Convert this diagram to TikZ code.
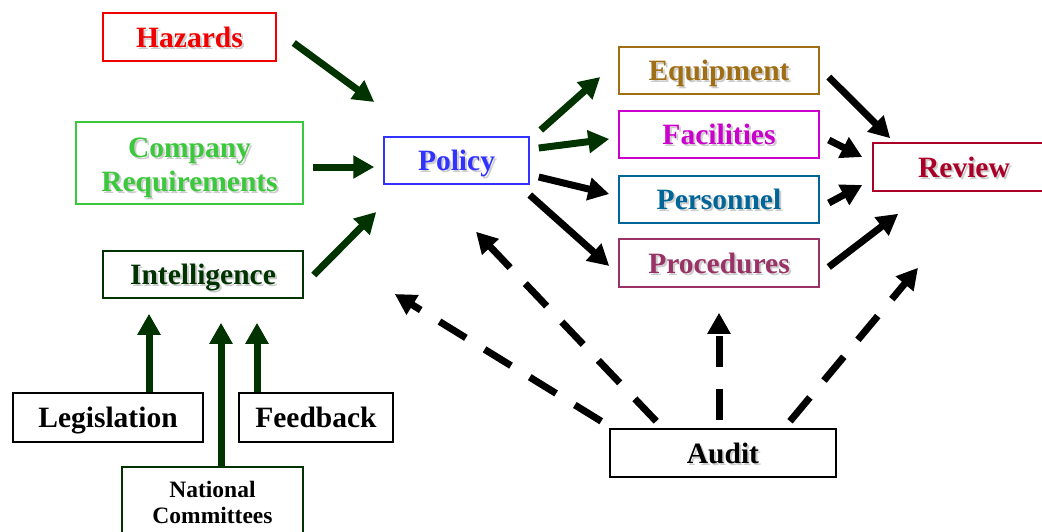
\documentclass[tikz,border=0pt]{standalone}
\usepackage{fontspec}
\setmainfont{Liberation Serif}
\usetikzlibrary{arrows.meta,calc}
\definecolor{hazred}{RGB}{240,0,0}
\definecolor{compgreen}{RGB}{60,200,60}
\definecolor{intelgreen}{RGB}{0,51,0}
\definecolor{polblue}{RGB}{51,51,255}
\definecolor{eqbrown}{RGB}{160,110,20}
\definecolor{facmag}{RGB}{204,0,204}
\definecolor{persblue}{RGB}{0,102,153}
\definecolor{procpurp}{RGB}{153,51,102}
\definecolor{revred}{RGB}{170,0,40}
\definecolor{arrgreen}{RGB}{0,51,0}
\definecolor{shadowgray}{RGB}{205,205,205}
\newcommand{\shtxt}[1]{\makebox[0pt][l]{\kern2pt\raisebox{-2pt}{\textcolor{shadowgray}{#1}}}#1}

\begin{document}
\begin{tikzpicture}[x=1pt,y=-1pt,
  box/.style={draw,line width=1.5pt,inner sep=0pt,
    font=\bfseries\fontsize{29.5}{34}\selectfont,text height=20pt,text depth=0pt},
  arr/.style={line width=7pt,-{Triangle[length=21pt,width=22pt]}},
  dasharr/.style={arr,black,dash pattern=on 31pt off 22pt}]
\useasboundingbox (0,0) rectangle (1042,531);

% inputs
\node[box,draw=hazred,text=hazred,minimum width=173pt,minimum height=48pt] (haz) at (189.5,37) {\shtxt{Hazards}};
\node[box,draw=compgreen,text=compgreen,align=center,minimum width=227pt,minimum height=82pt,
  text height=62pt,text depth=6pt] (comp) at (189.5,163) {\shtxt{Company}\\\shtxt{Requirements}};
\node[box,draw=intelgreen,text=intelgreen,minimum width=200pt,minimum height=47pt] (intel) at (203,274.5) {\shtxt{Intelligence}};
\node[box,minimum width=190pt,minimum height=49pt] (legis) at (108,417.5) {Legislation};
\node[box,minimum width=154pt,minimum height=49pt] (feed) at (316,417.5) {Feedback};
\node[box,draw=intelgreen,align=center,minimum width=181pt,minimum height=78pt,
  font=\bfseries\fontsize{23.5}{26}\selectfont,text height=39pt,text depth=5pt] (natl) at (212.5,506) {National\\Committees};

% policy and outputs
\node[box,draw=polblue,text=polblue,minimum width=145pt,minimum height=47pt] (pol) at (456.5,160.5) {\shtxt{Policy}};
\node[box,draw=eqbrown,text=eqbrown,minimum width=200pt,minimum height=47pt] (equip) at (719,70.5) {\shtxt{Equipment}};
\node[box,draw=facmag,text=facmag,minimum width=200pt,minimum height=47pt] (facil) at (719,134.5) {\shtxt{Facilities}};
\node[box,draw=persblue,text=persblue,minimum width=200pt,minimum height=47pt] (pers) at (719,199.5) {\shtxt{Personnel}};
\node[box,draw=procpurp,text=procpurp,minimum width=200pt,minimum height=48pt] (proc) at (719,263) {\shtxt{Procedures}};
\node[box,draw=revred,text=revred,minimum width=182pt,minimum height=48pt] (rev) at (964,167) {\shtxt{Review}};
\node[box,minimum width=226pt,minimum height=48pt] (audit) at (723,453) {\shtxt{Audit}};

% green arrows
\draw[arr,arrgreen] ($(haz.east)+(17,6)$) -- ($(pol.west)+(-9,-58.5)$);
\draw[arr,arrgreen] ($(comp.east)+(9,4)$) -- ($(pol.west)+(-9,6.5)$);
\draw[arr,arrgreen] ($(intel.east)+(10,0.5)$) -- ($(pol.west)+(-7,51.5)$);
\draw[arr,arrgreen] ($(legis.north)+(41,0)$) -- ($(intel.south)+(-54,15)$);
\draw[arr,arrgreen] ($(natl.north)+(8.5,0)$) -- ($(intel.south)+(18,24)$);
\draw[arr,arrgreen] ($(feed.north)+(-59,0)$) -- ($(intel.south)+(54,24)$);
\draw[arr,arrgreen] ($(pol.east)+(11,-30.5)$) -- ($(equip.west)+(-18,6.5)$);
\draw[arr,arrgreen] ($(pol.east)+(9,-12.5)$) -- ($(facil.west)+(-9,4.5)$);

% black arrows
\draw[arr] ($(pol.east)+(9,16.5)$) -- ($(pers.west)+(-9,-5.5)$);
\draw[arr] ($(pol.east)+(0,34.5)$) -- ($(proc.west)+(-9,3)$);
\draw[arr] ($(equip.east)+(9,6.5)$) -- ($(rev.north west)+(18,-4)$);
\draw[arr] ($(facil.east)+(9,5.5)$) -- ($(rev.west)+(-10,-10)$);
\draw[arr] ($(pers.east)+(9,3.5)$) -- ($(rev.west)+(-10,18)$);
\draw[arr] ($(proc.east)+(9,4)$) -- ($(rev.south west)+(26,22)$);

% audit
\draw[dasharr] ($(audit.north west)+(-8,-7)$) -- ($(intel.east)+(91,19.5)$);
\draw[dasharr] ($(audit.north west)+(47,-7)$) -- ($(pol.south)+(19.5,47)$);
\draw[dasharr] ($(audit.north)+(-4,-8)$) -- ($(proc.south)+(0,25)$);
\draw[dasharr] ($(audit.north)+(67,-7)$) -- ($(rev.south)+(-46,76)$);
\end{tikzpicture}
\end{document}
